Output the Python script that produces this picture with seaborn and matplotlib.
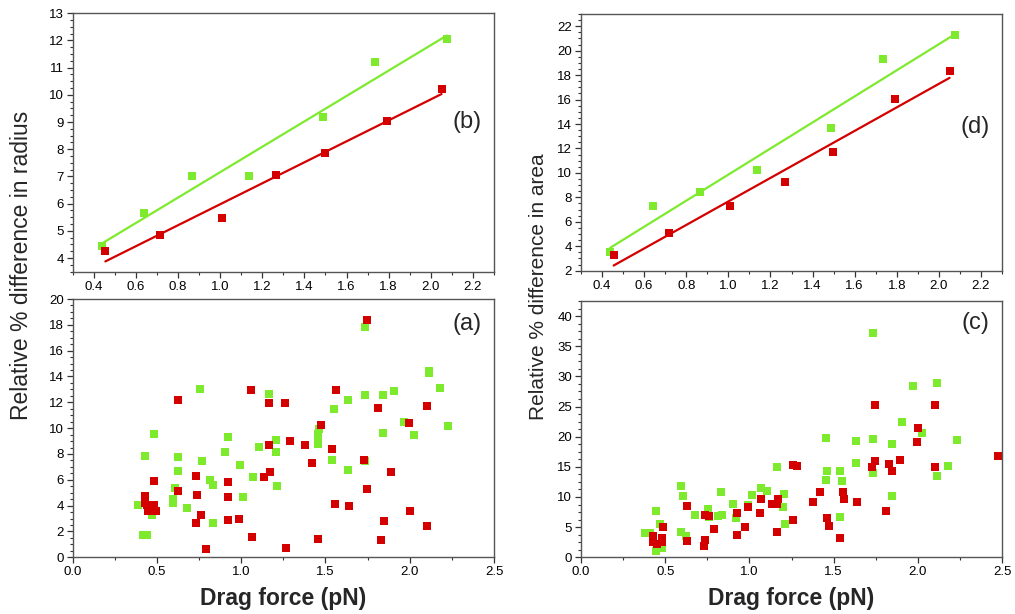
import numpy as np
import pandas as pd
import matplotlib
matplotlib.use("Agg")
import matplotlib.pyplot as plt
from matplotlib.ticker import MultipleLocator
import seaborn as sns

# ---------------- data ----------------
# (b)/(d): binned drag force, with linear fits
bin_x_green = [0.438, 0.640, 0.867, 1.137, 1.490, 1.735, 2.076]
bin_x_red = [0.455, 0.716, 1.010, 1.267, 1.498, 1.793, 2.051]
radius_green = [4.46, 5.65, 7.00, 7.00, 9.20, 11.21, 12.05]
radius_red = [4.25, 4.84, 5.49, 7.04, 7.88, 9.05, 10.21]
area_green = [3.56, 7.32, 8.41, 10.21, 13.65, 19.35, 21.28]
area_red = [3.26, 5.06, 7.29, 9.23, 11.71, 16.02, 18.31]

# (a): individual cells, radius difference
radius_scatter_green_x = [0.386, 0.415, 0.443, 0.431, 0.471, 0.481, 0.593, 0.593, 0.607, 0.625,
                          0.625, 0.678, 0.758, 0.765, 0.815, 0.835, 0.833, 0.902, 0.920, 0.995,
                          1.013, 1.068, 1.108, 1.165, 1.205, 1.209, 1.212, 1.460, 1.458, 1.458,
                          1.458, 1.537, 1.549, 1.634, 1.636, 1.733, 1.733, 1.735, 1.843, 1.843,
                          1.905, 1.968, 2.023, 2.113, 2.113, 2.180, 2.229]
radius_scatter_green_y = [4.02, 1.70, 1.70, 7.87, 3.28, 9.52, 4.54, 4.20, 5.34, 7.77,
                          6.66, 3.79, 13.06, 7.48, 5.99, 5.57, 2.66, 8.18, 9.29, 7.15,
                          4.69, 6.24, 8.57, 12.67, 9.06, 8.18, 5.49, 9.93, 9.55, 9.16,
                          8.77, 7.53, 11.51, 6.73, 12.15, 17.86, 12.59, 7.45, 12.59, 9.65,
                          12.85, 10.48, 9.44, 14.45, 14.25, 13.08, 10.17]
radius_scatter_red_x = [0.431, 0.431, 0.443, 0.449, 0.481, 0.485, 0.493, 0.627, 0.627, 0.734,
                        0.740, 0.734, 0.762, 0.791, 0.922, 0.924, 0.924, 0.989, 1.060, 1.064,
                        1.137, 1.165, 1.165, 1.171, 1.258, 1.266, 1.288, 1.381, 1.418, 1.458,
                        1.474, 1.541, 1.559, 1.565, 1.640, 1.731, 1.749, 1.749, 1.810, 1.830,
                        1.848, 1.889, 1.998, 2.004, 2.101, 2.101]
radius_scatter_red_y = [4.72, 4.18, 4.05, 3.58, 5.93, 4.05, 3.61, 12.18, 5.16, 6.29,
                        4.80, 2.63, 3.28, 0.62, 5.86, 4.67, 2.89, 2.97, 12.93, 1.55,
                        6.19, 11.95, 8.67, 6.63, 11.92, 0.69, 9.01, 8.67, 7.28, 1.39,
                        10.24, 8.39, 4.10, 12.93, 3.97, 7.51, 18.40, 5.26, 11.53, 1.37,
                        2.84, 6.63, 10.42, 3.56, 11.74, 2.45]

# (c): individual cells, area difference
area_scatter_green_x = [0.382, 0.410, 0.443, 0.445, 0.469, 0.479, 0.592, 0.604, 0.592, 0.624,
                        0.677, 0.756, 0.762, 0.816, 0.835, 0.833, 0.901, 0.918, 0.994, 1.013,
                        1.067, 1.107, 1.166, 1.201, 1.207, 1.211, 1.457, 1.459, 1.455, 1.538,
                        1.548, 1.538, 1.633, 1.633, 1.732, 1.732, 1.736, 1.845, 1.845, 1.904,
                        1.970, 2.023, 2.114, 2.114, 2.177, 2.231]
area_scatter_green_y = [3.97, 3.97, 7.67, 1.10, 5.57, 1.54, 11.82, 10.16, 4.14, 3.53,
                        7.01, 7.95, 6.73, 6.79, 7.01, 10.88, 8.78, 6.46, 8.67, 10.33,
                        11.43, 11.05, 15.03, 8.39, 10.44, 5.52, 19.84, 14.31, 12.81, 14.31,
                        12.70, 6.62, 19.28, 15.69, 37.14, 19.61, 13.92, 18.78, 10.22, 22.38,
                        28.40, 20.55, 28.96, 13.48, 15.19, 19.39]
area_scatter_red_x = [0.426, 0.426, 0.449, 0.479, 0.479, 0.485, 0.627, 0.627, 0.730, 0.738,
                      0.736, 0.760, 0.792, 0.924, 0.924, 0.976, 0.990, 1.061, 1.067, 1.136,
                      1.162, 1.172, 1.166, 1.261, 1.285, 1.261, 1.380, 1.417, 1.459, 1.475,
                      1.538, 1.558, 1.564, 1.639, 1.730, 1.748, 1.748, 1.809, 1.829, 1.849,
                      1.892, 1.997, 2.003, 2.100, 2.100, 2.474]
area_scatter_red_y = [3.58, 2.59, 2.15, 3.14, 2.59, 4.97, 8.50, 2.70, 1.87, 2.92,
                      7.01, 6.90, 4.74, 7.29, 3.69, 5.08, 8.28, 7.40, 9.61, 8.83,
                      8.83, 9.61, 4.25, 15.30, 15.08, 6.18, 9.11, 10.88, 6.46, 5.13,
                      3.14, 10.88, 9.66, 9.11, 15.03, 25.31, 16.02, 7.73, 15.52, 14.36,
                      16.13, 19.12, 21.49, 25.31, 14.92, 16.80]

GREEN = "#7eea2e"
RED = "#d40000"

# ---------------- style ----------------
sns.set_theme(style="ticks")
plt.rcParams["font.family"] = ["Liberation Sans", "DejaVu Sans"]
plt.rcParams["axes.edgecolor"] = "#555555"
plt.rcParams["axes.linewidth"] = 1.0
plt.rcParams["xtick.color"] = "#333333"
plt.rcParams["ytick.color"] = "#333333"
plt.rcParams["xtick.labelcolor"] = "black"
plt.rcParams["ytick.labelcolor"] = "black"

W, H = 1015, 614
fig = plt.figure(figsize=(W / 100, H / 100), dpi=100)


def px_axes(left, top, right, bottom):
    return fig.add_axes([left / W, 1 - bottom / H, (right - left) / W, (bottom - top) / H])


ax_b = px_axes(72.7, 13.3, 494.0, 271.7)
ax_a = px_axes(72.7, 299.0, 494.0, 557.3)
ax_d = px_axes(581.0, 14.0, 1002.0, 270.7)
ax_c = px_axes(581.0, 301.0, 1002.0, 557.3)

MS = 26  # marker area


def fit_panel(ax, yg, yr):
    for xs, ys, col in ((bin_x_green, yg, GREEN), (bin_x_red, yr, RED)):
        df = pd.DataFrame({"x": xs, "y": ys})
        sns.regplot(data=df, x="x", y="y", ax=ax, ci=None, truncate=True,
                    marker="s", color=col,
                    scatter_kws={"s": MS, "linewidths": 0, "alpha": 1},
                    line_kws={"lw": 1.6})


def scatter_panel(ax, gx, gy, rx, ry):
    sns.scatterplot(x=gx, y=gy, ax=ax, marker="s", color=GREEN, s=MS, linewidth=0)
    sns.scatterplot(x=rx, y=ry, ax=ax, marker="s", color=RED, s=MS, linewidth=0)


fit_panel(ax_b, radius_green, radius_red)
fit_panel(ax_d, area_green, area_red)
scatter_panel(ax_a, radius_scatter_green_x, radius_scatter_green_y,
              radius_scatter_red_x, radius_scatter_red_y)
scatter_panel(ax_c, area_scatter_green_x, area_scatter_green_y,
              area_scatter_red_x, area_scatter_red_y)

# axis ranges and ticks
top_ticks = np.arange(0.4, 2.21, 0.2)

ax_b.set(xlim=(0.3, 2.3), ylim=(3.5, 13))
ax_b.set_xticks(top_ticks)
ax_b.set_xticklabels([f"{v:.1f}" for v in top_ticks])
ax_b.xaxis.set_minor_locator(MultipleLocator(0.1))
ax_b.yaxis.set_major_locator(MultipleLocator(1))
ax_b.yaxis.set_minor_locator(MultipleLocator(0.25))

ax_d.set(xlim=(0.3, 2.3), ylim=(2, 23))
ax_d.set_xticks(top_ticks)
ax_d.set_xticklabels([f"{v:.1f}" for v in top_ticks])
ax_d.xaxis.set_minor_locator(MultipleLocator(0.1))
ax_d.yaxis.set_major_locator(MultipleLocator(2))
ax_d.yaxis.set_minor_locator(MultipleLocator(0.5))

ax_a.set(xlim=(0, 2.5), ylim=(0, 20))
ax_a.xaxis.set_major_locator(MultipleLocator(0.5))
ax_a.xaxis.set_minor_locator(MultipleLocator(0.25))
ax_a.yaxis.set_major_locator(MultipleLocator(2))
ax_a.yaxis.set_minor_locator(MultipleLocator(0.5))

ax_c.set(xlim=(0, 2.5), ylim=(0, 42.5))
ax_c.xaxis.set_major_locator(MultipleLocator(0.5))
ax_c.xaxis.set_minor_locator(MultipleLocator(0.25))
ax_c.yaxis.set_major_locator(MultipleLocator(5))
ax_c.yaxis.set_minor_locator(MultipleLocator(1.25))

for ax in (ax_a, ax_b, ax_c, ax_d):
    ax.set_xlabel("")
    ax.set_ylabel("")
    for s in ax.spines.values():
        s.set_visible(True)
    ax.tick_params(which="major", direction="out", length=4.5, width=0.9, labelsize=9.5, pad=2)
    ax.tick_params(which="minor", direction="out", length=2.5, width=0.8)
    ax.tick_params(top=False, right=False, which="both")

panel_labels = {ax_b: ("(b)", 0.936, 0.58), ax_a: ("(a)", 0.936, 0.905),
                ax_d: ("(d)", 0.936, 0.56), ax_c: ("(c)", 0.938, 0.915)}
for ax, (txt, fx, fy) in panel_labels.items():
    ax.text(fx, fy, txt, transform=ax.transAxes, ha="center", va="center", fontsize=17)

fig.text(22 / W, 1 - 265 / H, "Relative % difference in radius", rotation=90,
         ha="center", va="center", fontsize=16.5)
fig.text(538 / W, 1 - 287 / H, "Relative % difference in area", rotation=90,
         ha="center", va="center", fontsize=15)
fig.text(283 / W, 1 - 599 / H, "Drag force (pN)", ha="center", va="center",
         fontsize=16.5, fontweight="bold")
fig.text(791 / W, 1 - 599 / H, "Drag force (pN)", ha="center", va="center",
         fontsize=16.5, fontweight="bold")

fig.savefig("out.png", dpi=100)
